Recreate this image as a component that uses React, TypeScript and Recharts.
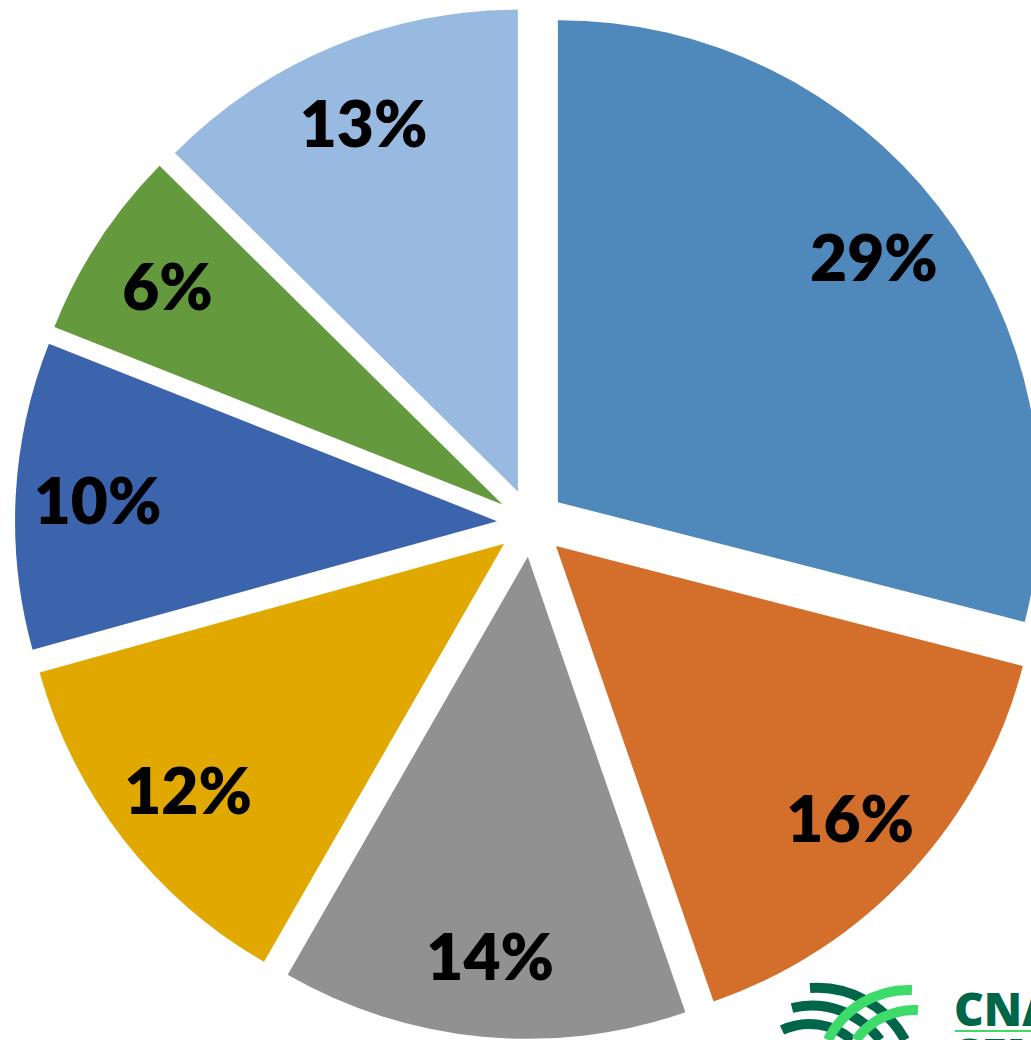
import { Cell, Pie, PieChart } from 'recharts'

// exploded pie: one Pie per slice, each shifted out along its own mid angle

const categories = ['A', 'B', 'C', 'D', 'E', 'F', 'G']
const shares = [29.0, 15.7, 13.6, 12.4, 10.3, 6.4, 12.6]
const sliceColors = ['#4F88BB', '#D36F2B', '#919191', '#E1A900', '#3C64AD', '#64993E', '#98B9E0']

const WIDTH = 1031
const HEIGHT = 1040
const CX = 531
const CY = 523
const RADIUS = 482
const EXPLODE = 34
const RAD = Math.PI / 180

const data = categories.map((name, i) => ({ name, value: shares[i] }))
const total = shares.reduce((a, b) => a + b, 0)

// mid angle of slice i, in recharts degrees (counter-clockwise from 3 o'clock)
function midAngleOf(i: number) {
  const before = shares.slice(0, i).reduce((a, b) => a + b, 0)
  const mid = before + shares[i] / 2
  return 90 - (mid / total) * 360
}

function makeLabel(target: number) {
  return (props: any) => {
    const { cx, cy, midAngle, outerRadius, index, value } = props
    if (index !== target) return null
    const r = outerRadius * 0.83
    const x = cx + r * Math.cos(-midAngle * RAD)
    const y = cy + r * Math.sin(-midAngle * RAD)
    return (
      <text
        x={x}
        y={y}
        textAnchor="middle"
        dominantBaseline="central"
        fill="#000"
        fontFamily="Lato, 'Open Sans', sans-serif"
        fontWeight={800}
        fontSize={64}
      >
        {`${Math.round((value / total) * 100 + 1e-9)}%`}
      </text>
    )
  }
}

function Logo() {
  return (
    <svg
      width={WIDTH}
      height={HEIGHT}
      style={{ position: 'absolute', left: 0, top: 0, pointerEvents: 'none' }}
    >
      <g fill="none" strokeWidth={10} strokeLinecap="butt">
        <path d="M 810 988 A 100 100 0 0 1 905 1040" stroke="#00664A" />
        <path d="M 792 1008 A 85 85 0 0 1 880 1040" stroke="#00664A" />
        <path d="M 782 1030 A 65 65 0 0 1 852 1040" stroke="#00664A" />
        <path d="M 828 1040 A 90 90 0 0 1 912 990" stroke="#3DDC6A" />
        <path d="M 856 1040 A 72 72 0 0 1 918 1010" stroke="#3DDC6A" />
      </g>
      <text
        x={954}
        y={1026}
        fill="#00664A"
        fontFamily="'Open Sans', sans-serif"
        fontWeight={800}
        fontSize={46}
      >
        CNA
      </text>
      <rect x={955} y={1030} width={76} height={2} fill="#3DDC6A" />
      <text
        x={955}
        y={1072}
        fill="#00664A"
        fontFamily="'Open Sans', sans-serif"
        fontWeight={800}
        fontSize={46}
      >
        SENAR
      </text>
    </svg>
  )
}

export default function App() {
  return (
    <div
      style={{
        position: 'absolute',
        left: 0,
        top: 0,
        width: WIDTH,
        height: HEIGHT,
        overflow: 'hidden',
        background: '#fff',
      }}
    >
      <PieChart width={WIDTH} height={HEIGHT} margin={{ top: 0, right: 0, bottom: 0, left: 0 }}>
        {shares.map((_, i) => {
          const mid = midAngleOf(i)
          const cx = CX + EXPLODE * Math.cos(mid * RAD)
          const cy = CY - EXPLODE * Math.sin(mid * RAD)
          return (
            <Pie
              key={i}
              data={data}
              dataKey="value"
              cx={cx}
              cy={cy}
              outerRadius={RADIUS}
              startAngle={90}
              endAngle={-270}
              stroke="none"
              labelLine={false}
              label={makeLabel(i)}
              isAnimationActive={false}
            >
              {data.map((d, j) => (
                <Cell key={d.name} fill={j === i ? sliceColors[i] : 'none'} />
              ))}
            </Pie>
          )
        })}
      </PieChart>
      <Logo />
    </div>
  )
}
